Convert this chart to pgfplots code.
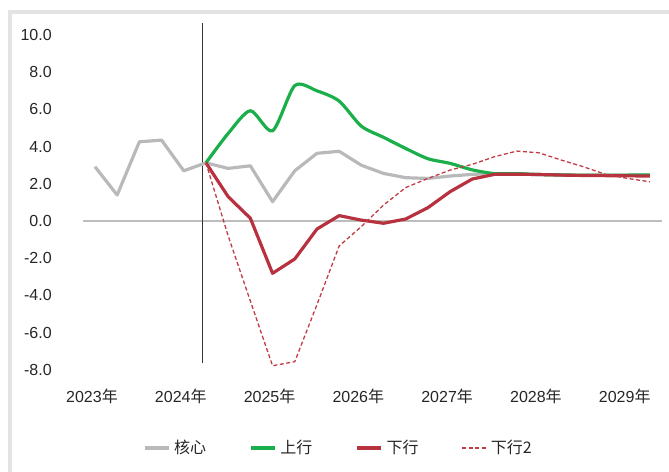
\documentclass[border=0pt]{standalone}
\usepackage{pgfplots}
\pgfplotsset{compat=1.18}
\usepackage{fontspec}
\setmainfont{Liberation Sans}
\newfontfamily\cjk{Noto Sans CJK SC}
\definecolor{cgrey}{HTML}{B9B9BC}
\definecolor{cgreen}{HTML}{1BAF4B}
\definecolor{cred}{HTML}{B7323E}
\definecolor{cdash}{HTML}{C23A44}
\definecolor{cframe}{HTML}{E3E3E3}
\definecolor{czero}{HTML}{BDBDBD}

\pgfplotstableread{
i core
0 2.92
1 1.40
2 4.26
3 4.35
4 2.70
5 3.13
6 2.83
7 2.97
8 1.04
9 2.70
10 3.64
11 3.75
12 3.00
13 2.56
14 2.33
15 2.29
16 2.42
17 2.51
18 2.55
19 2.52
20 2.50
21 2.48
22 2.46
23 2.46
24 2.46
25 2.46
}\coretab

\pgfplotstableread{
i up
5 3.13
6 4.71
7 5.93
8 4.85
9 7.28
10 7.00
11 6.45
12 5.10
13 4.50
14 3.90
15 3.35
16 3.10
17 2.75
18 2.55
19 2.55
20 2.50
21 2.48
22 2.46
23 2.46
24 2.47
25 2.48
}\uptab

\pgfplotstableread{
i down
5 3.13
6 1.31
7 0.15
8 -2.81
9 -2.04
10 -0.43
11 0.29
12 0.05
13 -0.12
14 0.11
15 0.72
16 1.58
17 2.26
18 2.51
19 2.52
20 2.50
21 2.47
22 2.45
23 2.44
24 2.43
25 2.42
}\downtab

\pgfplotstableread{
i downb
5 3.13
6 -0.80
7 -4.30
8 -7.78
9 -7.56
10 -4.50
11 -1.34
12 -0.30
13 0.86
14 1.80
15 2.29
16 2.74
17 3.05
18 3.46
19 3.76
20 3.67
21 3.28
22 2.92
23 2.51
24 2.29
25 2.11
}\downbtab

\begin{document}
\begin{tikzpicture}
\useasboundingbox (0,0) rectangle (669bp,472bp);
\fill[cframe] (8bp,458bp) rectangle (669bp,462bp);
\fill[cframe] (8bp,0bp) rectangle (12bp,462bp);
\begin{axis}[
  at={(83.2bp,91bp)}, anchor=south west,
  scale only axis, width=578.5bp, height=358.05bp,
  xmin=-0.53, xmax=25.53, ymin=-8.6, ymax=10.65,
  clip=false,
  axis line style={draw=none},
  major tick length=0pt,
  tick style={draw=none},
  xtick={0,4,8,12,16,20,24},
  xticklabels={2023{\cjk 年},2024{\cjk 年},2025{\cjk 年},2026{\cjk 年},2027{\cjk 年},2028{\cjk 年},2029{\cjk 年}},
  ytick={-8,-6,-4,-2,0,2,4,6,8,10},
  yticklabels={-8.0,-6.0,-4.0,-2.0,0.0,2.0,4.0,6.0,8.0,10.0},
  tick label style={font=\fontsize{16bp}{18bp}\selectfont, text=black!85},
  yticklabel style={xshift=-28bp},
  xticklabel style={xshift=-3bp, yshift=-4bp},
  legend columns=4,
  legend image code/.code={\draw[#1] (0bp,0bp) -- (24bp,0bp);},
  legend style={at={(0.441,-0.187)}, anchor=center, draw=none, fill=none,
    font=\fontsize{16bp}{18bp}\selectfont\cjk, text=black!85,
    /tikz/every odd column/.append style={column sep=2bp},
    /tikz/every even column/.append style={column sep=41bp}},
]
\addplot[czero, line width=1.5pt, forget plot] coordinates {(-0.53,0) (25.53,0)};
\addplot[black!80, line width=0.8pt, forget plot] coordinates {(4.85,-7.65) (4.85,10.65)};
\addplot[cgrey, line width=3.2pt, line join=round] table[x=i,y=core] {\coretab};
\addlegendentry{核心}
\addplot[cgreen, line width=3.2pt, smooth, tension=0.45, line join=round] table[x=i,y=up] {\uptab};
\addlegendentry{上行}
\addplot[cred, line width=3.2pt, line join=round] table[x=i,y=down] {\downtab};
\addlegendentry{下行}
\addplot[cdash, line width=1.3pt, dash pattern=on 4bp off 2.5bp] table[x=i,y=downb] {\downbtab};
\addlegendentry{下行2}
\end{axis}
\end{tikzpicture}
\end{document}
